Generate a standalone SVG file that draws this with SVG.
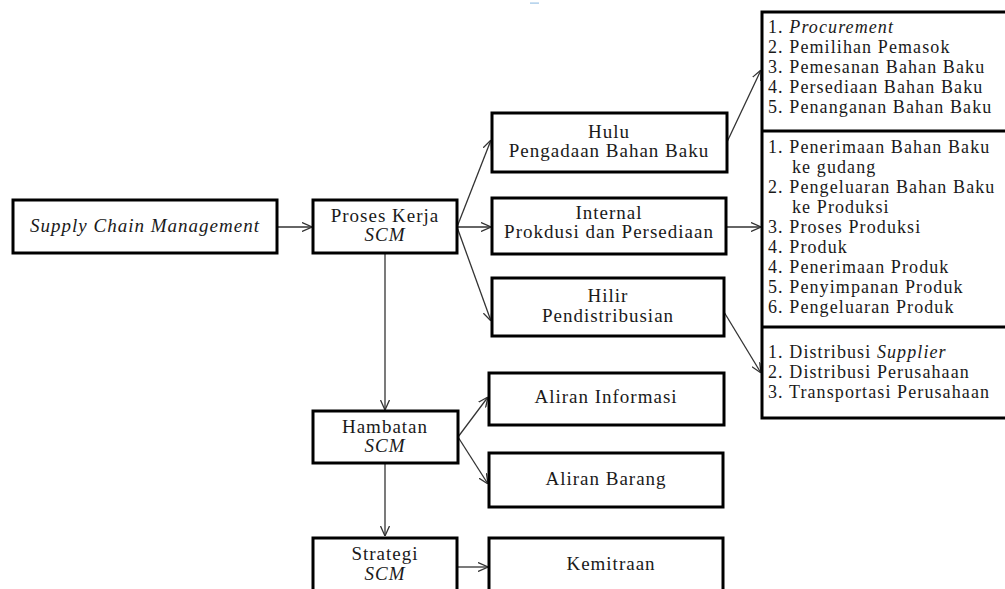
<svg xmlns="http://www.w3.org/2000/svg" width="1005" height="589" viewBox="0 0 1005 589">
<style>
.box{fill:#fff;stroke:#000;stroke-width:3}
.t{font-family:"Liberation Serif","Times New Roman",serif;font-size:19px;letter-spacing:1px;fill:#1a1a1a;text-anchor:middle}
.l{font-family:"Liberation Serif","Times New Roman",serif;font-size:18px;letter-spacing:1.1px;fill:#1a1a1a}
.i{font-style:italic}
.c{stroke:#333;stroke-width:1.3;fill:none;marker-end:url(#ah)}
</style>
<defs>
<marker id="ah" markerUnits="userSpaceOnUse" viewBox="0 0 10 10" refX="10" refY="5" markerWidth="10" markerHeight="10" orient="auto">
<path d="M0,0.5 L10,5 L0,9.5" fill="none" stroke="#333" stroke-width="1.3"/>
</marker>
</defs>
<rect x="530" y="2.5" width="9" height="1.2" fill="#9cc3e6"/>
<g id="connectors">
<line class="c" x1="277" y1="227" x2="312" y2="227"/>
<line class="c" x1="457" y1="227" x2="491" y2="140"/>
<line class="c" x1="457" y1="227" x2="491" y2="227"/>
<line class="c" x1="457" y1="227" x2="491" y2="321"/>
<line class="c" x1="727" y1="142" x2="761" y2="70"/>
<line class="c" x1="726" y1="227" x2="761" y2="227"/>
<line class="c" x1="724" y1="312" x2="761" y2="373"/>
<line class="c" x1="385" y1="253" x2="385" y2="410"/>
<line class="c" x1="458" y1="437" x2="488" y2="397"/>
<line class="c" x1="458" y1="437" x2="488" y2="484"/>
<line class="c" x1="385" y1="463" x2="385" y2="536"/>
<line class="c" x1="457" y1="567" x2="488" y2="567"/>
</g>
<g id="scm">
<rect class="box" x="13" y="200" width="264" height="53"/>
<text class="t i" x="145" y="232">Supply Chain Management</text>
</g>
<g id="proses">
<rect class="box" x="313" y="200" width="144" height="53"/>
<text class="t" x="385" y="222">Proses Kerja</text>
<text class="t i" x="385" y="241">SCM</text>
</g>
<g id="hulu">
<rect class="box" x="492" y="113" width="235" height="59"/>
<text class="t" x="609" y="138">Hulu</text>
<text class="t" x="609" y="157">Pengadaan Bahan Baku</text>
</g>
<g id="internal">
<rect class="box" x="492" y="198" width="234" height="56"/>
<text class="t" x="609" y="219">Internal</text>
<text class="t" x="609" y="238">Prokdusi dan Persediaan</text>
</g>
<g id="hilir">
<rect class="box" x="492" y="278" width="232" height="58"/>
<text class="t" x="608" y="302">Hilir</text>
<text class="t" x="608" y="322">Pendistribusian</text>
</g>
<g id="list">
<rect class="box" x="762" y="12" width="250" height="406"/>
<line x1="762" y1="131" x2="1010" y2="131" stroke="#000" stroke-width="3"/>
<line x1="762" y1="327" x2="1010" y2="327" stroke="#000" stroke-width="3"/>
<text class="l" x="768" y="33">1. <tspan class="i">Procurement</tspan></text>
<text class="l" x="768" y="53">2. Pemilihan Pemasok</text>
<text class="l" x="768" y="73">3. Pemesanan Bahan Baku</text>
<text class="l" x="768" y="93">4. Persediaan Bahan Baku</text>
<text class="l" x="768" y="113">5. Penanganan Bahan Baku</text>
<text class="l" x="768" y="153">1. Penerimaan Bahan Baku</text>
<text class="l" x="792" y="173">ke gudang</text>
<text class="l" x="768" y="193">2. Pengeluaran Bahan Baku</text>
<text class="l" x="792" y="213">ke Produksi</text>
<text class="l" x="768" y="233">3. Proses Produksi</text>
<text class="l" x="768" y="253">4. Produk</text>
<text class="l" x="768" y="273">4. Penerimaan Produk</text>
<text class="l" x="768" y="293">5. Penyimpanan Produk</text>
<text class="l" x="768" y="313">6. Pengeluaran Produk</text>
<text class="l" x="768" y="358">1. Distribusi <tspan class="i">Supplier</tspan></text>
<text class="l" x="768" y="378">2. Distribusi Perusahaan</text>
<text class="l" x="768" y="398">3. Transportasi Perusahaan</text>
</g>
<g id="hambatan">
<rect class="box" x="313" y="411" width="145" height="52"/>
<text class="t" x="385" y="433">Hambatan</text>
<text class="t i" x="385" y="452">SCM</text>
</g>
<g id="informasi">
<rect class="box" x="489" y="373" width="235" height="52"/>
<text class="t" x="606" y="403">Aliran Informasi</text>
</g>
<g id="barang">
<rect class="box" x="489" y="453" width="234" height="54"/>
<text class="t" x="606" y="485">Aliran Barang</text>
</g>
<g id="strategi">
<rect class="box" x="313" y="538" width="144" height="70"/>
<text class="t" x="385" y="560">Strategi</text>
<text class="t i" x="385" y="580">SCM</text>
</g>
<g id="kemitraan">
<rect class="box" x="489" y="538" width="234" height="70"/>
<text class="t" x="611" y="570">Kemitraan</text>
</g>
</svg>
